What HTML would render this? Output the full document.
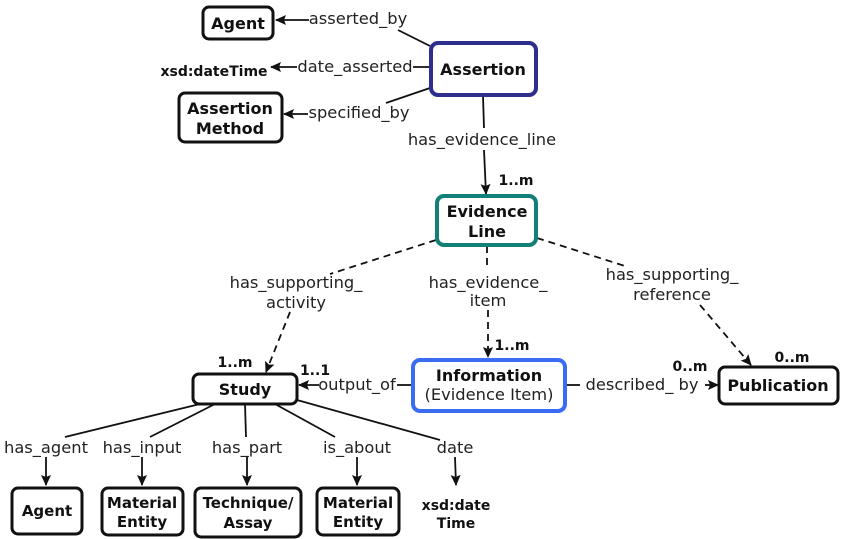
<!DOCTYPE html>
<html><head><meta charset="utf-8"><style>
html,body{margin:0;padding:0;background:#fff;}
svg{display:block;font-family:"DejaVu Sans","Liberation Sans",sans-serif;}
.lb{font-size:16.3px;fill:#222;}
.bx{font-size:16px;font-weight:bold;fill:#111;}
.sm{font-size:14px;font-weight:bold;fill:#111;}
.bb{font-size:15px;font-weight:bold;fill:#111;}
</style></head><body>
<svg width="842" height="539" viewBox="0 0 842 539">
<defs><marker id="ah" markerWidth="11" markerHeight="10" refX="10" refY="5" orient="auto" markerUnits="userSpaceOnUse"><path d="M0,0 L11,5 L0,10 L2,5 z" fill="#111"/></marker></defs>
<g stroke="#111" stroke-width="1.8" fill="none">
<line x1="430" y1="46" x2="398" y2="30"/>
<line x1="309" y1="20" x2="276" y2="20" marker-end="url(#ah)"/>
<line x1="430" y1="67" x2="413" y2="67"/>
<line x1="297" y1="67" x2="271" y2="67" marker-end="url(#ah)"/>
<line x1="430" y1="88" x2="386" y2="103"/>
<line x1="308" y1="114" x2="284" y2="114" marker-end="url(#ah)"/>
<line x1="483" y1="96" x2="484" y2="128"/>
<line x1="484" y1="150" x2="486" y2="194" marker-end="url(#ah)"/>
<g stroke-dasharray="7,5">
<line x1="436" y1="240" x2="330" y2="274"/>
<line x1="290" y1="312" x2="266" y2="372" marker-end="url(#ah)"/>
<line x1="487" y1="246" x2="487" y2="268"/>
<line x1="488" y1="310" x2="488" y2="357" marker-end="url(#ah)"/>
<line x1="537" y1="238" x2="625" y2="266"/>
<line x1="700" y1="305" x2="751" y2="365" marker-end="url(#ah)"/>
</g>
<line x1="412" y1="385" x2="397" y2="385"/>
<line x1="319" y1="385" x2="299" y2="385" marker-end="url(#ah)"/>
<line x1="566" y1="385" x2="580" y2="385"/>
<line x1="705" y1="385" x2="718" y2="385" marker-end="url(#ah)"/>
<line x1="200" y1="404" x2="65" y2="437"/>
<line x1="46" y1="457" x2="46" y2="485" marker-end="url(#ah)"/>
<line x1="215" y1="404" x2="150" y2="437"/>
<line x1="142" y1="457" x2="142" y2="485" marker-end="url(#ah)"/>
<line x1="245" y1="404" x2="246" y2="437"/>
<line x1="247" y1="457" x2="247" y2="485" marker-end="url(#ah)"/>
<line x1="275" y1="404" x2="335" y2="437"/>
<line x1="357" y1="457" x2="357" y2="485" marker-end="url(#ah)"/>
<line x1="297" y1="400" x2="440" y2="440"/>
<line x1="455" y1="457" x2="456" y2="485" marker-end="url(#ah)"/>
</g>
<g fill="#fff" stroke="#111" stroke-width="3">
<rect x="203" y="7" width="70" height="32" rx="6"/>
<rect x="179" y="93" width="103" height="49" rx="6"/>
<rect x="431" y="43" width="105" height="52" rx="7" stroke="#2e2e8f" stroke-width="4"/>
<rect x="437" y="196" width="99" height="49" rx="7" stroke="#128078" stroke-width="4"/>
<rect x="193" y="374" width="104" height="30" rx="6"/>
<rect x="413" y="360" width="152" height="51" rx="7" stroke="#3a6cf2" stroke-width="4"/>
<rect x="719" y="367" width="119" height="37" rx="6"/>
<rect x="12" y="488" width="70" height="46" rx="6"/>
<rect x="102" y="488" width="81" height="47" rx="6"/>
<rect x="195" y="488" width="106" height="49" rx="6"/>
<rect x="317" y="488" width="82" height="47" rx="6"/>
</g>
<g text-anchor="middle">
<text class="bx" x="238" y="29">Agent</text>
<text class="sm" x="214" y="76">xsd:dateTime</text>
<text class="bx" x="230" y="114">Assertion</text>
<text class="bx" x="230" y="134">Method</text>
<text class="bx" x="483" y="75">Assertion</text>
<text class="bx" x="487" y="217">Evidence</text>
<text class="bx" x="487" y="237">Line</text>
<text class="bx" x="245" y="395">Study</text>
<text class="bx" x="489" y="381">Information</text>
<text class="lb" x="489" y="400">(Evidence Item)</text>
<text class="bx" x="778" y="391">Publication</text>
<text class="bb" x="47" y="516">Agent</text>
<text class="bb" x="142" y="508">Material</text>
<text class="bb" x="142" y="527">Entity</text>
<text class="bb" x="248" y="508">Technique/</text>
<text class="bb" x="248" y="528">Assay</text>
<text class="bb" x="358" y="508">Material</text>
<text class="bb" x="358" y="527">Entity</text>
<text class="sm" x="456" y="510">xsd:date</text>
<text class="sm" x="456" y="528">Time</text>
<text class="lb" x="358" y="24">asserted_by</text>
<text class="lb" x="355" y="72">date_asserted</text>
<text class="lb" x="359" y="118">specified_by</text>
<text class="lb" x="482" y="145">has_evidence_line</text>
<text class="sm" x="516" y="185">1..m</text>
<text class="lb" x="296" y="288">has_supporting_</text>
<text class="lb" x="296" y="308">activity</text>
<text class="lb" x="488" y="288">has_evidence_</text>
<text class="lb" x="488" y="306">item</text>
<text class="lb" x="672" y="280">has_supporting_</text>
<text class="lb" x="672" y="300">reference</text>
<text class="sm" x="512" y="350">1..m</text>
<text class="sm" x="235" y="367">1..m</text>
<text class="sm" x="315" y="375">1..1</text>
<text class="sm" x="690" y="371">0..m</text>
<text class="sm" x="792" y="362">0..m</text>
<text class="lb" x="357" y="390">output_of</text>
<text class="lb" x="642" y="390">described_ by</text>
<text class="lb" x="46" y="453">has_agent</text>
<text class="lb" x="142" y="453">has_input</text>
<text class="lb" x="247" y="453">has_part</text>
<text class="lb" x="357" y="453">is_about</text>
<text class="lb" x="455" y="453">date</text>
</g>
</svg>
</body></html>
